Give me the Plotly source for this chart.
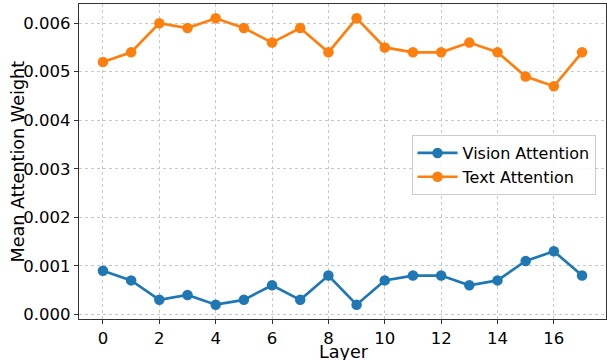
import plotly.graph_objects as go

layers = list(range(18))
vision_attention = [0.0009, 0.0007, 0.0003, 0.0004, 0.0002, 0.0003, 0.0006, 0.0003, 0.0008,
                    0.0002, 0.0007, 0.0008, 0.0008, 0.0006, 0.0007, 0.0011, 0.0013, 0.0008]
text_attention = [0.0052, 0.0054, 0.0060, 0.0059, 0.0061, 0.0059, 0.0056, 0.0059, 0.0054,
                  0.0061, 0.0055, 0.0054, 0.0054, 0.0056, 0.0054, 0.0049, 0.0047, 0.0054]
y_ticks = [0.000, 0.001, 0.002, 0.003, 0.004, 0.005, 0.006]
x_ticks = list(range(0, 18, 2))
x_title = "Layer"
y_title = "Mean Attention Weight"

fig = go.Figure()
fig.add_trace(go.Scatter(x=layers, y=vision_attention, mode="lines+markers", name="Vision Attention",
                         line=dict(color="#1f77b4", width=2.7), marker=dict(size=10.5, color="#1f77b4")))
fig.add_trace(go.Scatter(x=layers, y=text_attention, mode="lines+markers", name="Text Attention",
                         line=dict(color="#ff7f0e", width=2.7), marker=dict(size=10.5, color="#ff7f0e")))

axis_common = dict(showline=True, linecolor="#333333", linewidth=1.3, mirror=True,
                   ticks="outside", ticklen=4, tickcolor="#333333", automargin=False,
                   showgrid=True, gridcolor="#c8c8c8", griddash="dot", gridwidth=1,
                   zeroline=False, tickfont=dict(family="DejaVu Sans", size=16.5, color="#000"))

fig.update_xaxes(range=[-0.85, 17.85], tickvals=x_ticks, **axis_common)
fig.update_yaxes(range=[-0.000095, 0.006395], tickvals=y_ticks, tickformat=".3f", **axis_common)

title_font = dict(family="DejaVu Sans", size=17.6, color="#000")
fig.add_annotation(text=x_title, xref="paper", yref="paper", x=0.5, y=0,
                   xanchor="center", yanchor="middle", yshift=-32.5, xshift=1,
                   showarrow=False, font=title_font)
fig.add_annotation(text=y_title, xref="paper", yref="paper", x=0, y=0.5,
                   xanchor="center", yanchor="middle", xshift=-62, textangle=-90,
                   showarrow=False, font=title_font)

fig.update_layout(
    width=607, height=360,
    margin=dict(l=79, r=1, t=4, b=41),
    plot_bgcolor="white", paper_bgcolor="white",
    font=dict(family="DejaVu Sans", color="#000"),
    legend=dict(x=0.631, y=0.584, xanchor="left", yanchor="top",
                bgcolor="rgba(255,255,255,0.85)", bordercolor="#cccccc", borderwidth=1,
                font=dict(family="DejaVu Sans", size=16, color="#000"), tracegroupgap=0,
                itemwidth=40),
    showlegend=True,
)

fig.write_html("out.html", config={"displayModeBar": False},
               post_script="document.body.style.margin='0';document.body.style.overflow='hidden';")
